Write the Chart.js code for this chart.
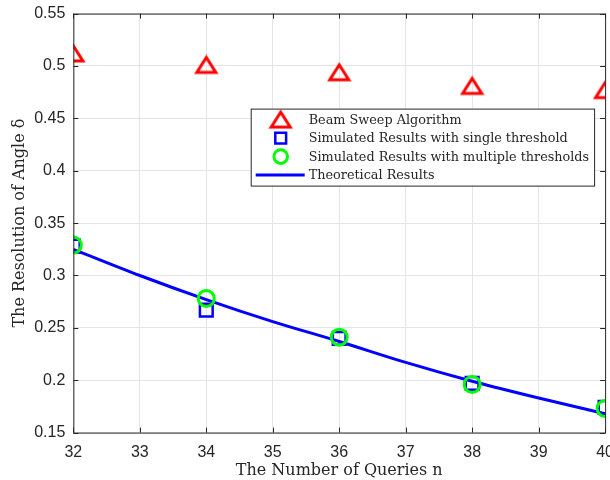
<!DOCTYPE html>
<html>
<head>
<meta charset="utf-8">
<script src="https://cdn.jsdelivr.net/npm/chart.js@4/dist/chart.umd.min.js"></script>
<style>
  html, body { margin: 0; padding: 0; background: #fff; overflow: hidden; }
  #wrap { width: 610px; height: 480px; overflow: hidden; }
  #c { display: block; margin-top: -4px; }
</style>
</head>
<body>
<div id="wrap"><canvas id="c" width="624" height="484"></canvas></div>
<script>
const queries = [32, 34, 36, 38, 40]
const beamSweep = [0.512, 0.501, 0.494, 0.481, 0.477]
const singleThreshold = [0.328, 0.267, 0.240, 0.197, 0.174]
const multipleThresholds = [0.329, 0.278, 0.241, 0.196, 0.173]
const theoryN = [32, 33, 34, 35, 36, 37, 38, 39, 40]
const theory = [0.325, 0.300, 0.277, 0.256, 0.237, 0.217, 0.199, 0.183, 0.168]
const xTicks = [32, 33, 34, 35, 36, 37, 38, 39, 40]
const yTicks = [0.15, 0.2, 0.25, 0.3, 0.35, 0.4, 0.45, 0.5, 0.55]

const pts = (xs, ys) => xs.map((x, i) => ({ x: x, y: ys[i] }))
const axisColor = '#262626'
const serif = '"DejaVu Serif", "Liberation Serif", serif'
const sans = '"Liberation Sans", Arial, sans-serif'

// matlab '^' marker: centred on its bounding box, not its circumcentre
function triangleMarker(w, h, lw, color) {
  const cv = document.createElement('canvas')
  cv.width = w + lw * 2
  cv.height = h + lw * 2
  const g = cv.getContext('2d')
  g.strokeStyle = color
  g.lineWidth = lw
  g.lineJoin = 'miter'
  g.beginPath()
  g.moveTo(cv.width / 2, lw)
  g.lineTo(cv.width - lw, cv.height - lw)
  g.lineTo(lw, cv.height - lw)
  g.closePath()
  g.stroke()
  return cv
}
const tri = triangleMarker(19, 15, 3, '#ff0000')

// box, inward ticks and legend inside the axes
const boxPlugin = {
  id: 'box',
  afterDraw(chart) {
    const ctx = chart.ctx
    const a = chart.chartArea
    const xs = chart.scales.x, ys = chart.scales.y
    ctx.save()
    ctx.strokeStyle = axisColor
    ctx.lineWidth = 1
    ctx.strokeRect(a.left + 0.5, a.top + 0.5, a.right - a.left, a.bottom - a.top)
    ctx.beginPath()
    xTicks.forEach(v => {
      const px = Math.round(xs.getPixelForValue(v)) + 0.5
      ctx.moveTo(px, a.bottom); ctx.lineTo(px, a.bottom - 5)
      ctx.moveTo(px, a.top); ctx.lineTo(px, a.top + 5)
    })
    yTicks.forEach(v => {
      const py = Math.round(ys.getPixelForValue(v)) + 0.5
      ctx.moveTo(a.left, py); ctx.lineTo(a.left + 5, py)
      ctx.moveTo(a.right, py); ctx.lineTo(a.right - 5, py)
    })
    ctx.stroke()

    // legend
    const ds = chart.data.datasets
    ctx.font = '12.8px ' + serif
    let tw = 0
    ds.forEach(d => { tw = Math.max(tw, ctx.measureText(d.label).width) })
    const w = 58 + tw + 5, h = 77
    const left = a.right - 11 - w, top = a.top + 95
    ctx.fillStyle = '#fff'
    ctx.fillRect(left, top, w, h)
    ctx.strokeStyle = axisColor
    ctx.strokeRect(left + 0.5, top + 0.5, w, h)
    ds.forEach((d, i) => {
      const cy = top + 11 + i * 18.5
      const cx = left + 30
      if (d.showLine) {
        ctx.strokeStyle = d.borderColor
        ctx.lineWidth = d.borderWidth
        ctx.beginPath(); ctx.moveTo(left + 5, cy); ctx.lineTo(left + 54, cy); ctx.stroke()
      } else if (d.pointStyle === tri) {
        ctx.drawImage(tri, cx - tri.width / 2, cy - tri.height / 2)
      } else {
        ctx.strokeStyle = d.pointBorderColor
        ctx.lineWidth = d.pointBorderWidth
        ctx.beginPath()
        if (d.pointStyle === 'rect') {
          const s = d.pointRadius * 0.85 * Math.SQRT1_2
          ctx.rect(cx - s, cy - s, 2 * s, 2 * s)
        } else {
          ctx.arc(cx, cy, d.pointRadius * 0.85, 0, Math.PI * 2)
        }
        ctx.stroke()
      }
      ctx.fillStyle = axisColor
      ctx.textBaseline = 'middle'
      ctx.textAlign = 'left'
      ctx.fillText(d.label, left + 58, cy + 1)
    })
    ctx.restore()
  }
}

new Chart(document.getElementById('c').getContext('2d'), {
  type: 'scatter',
  data: {
    datasets: [
      {
        label: 'Beam Sweep Algorithm',
        data: pts(queries, beamSweep),
        showLine: false,
        pointStyle: tri,
        pointRadius: 12,
        order: 1
      },
      {
        label: 'Simulated Results with single threshold',
        data: pts(queries, singleThreshold),
        showLine: false,
        pointStyle: 'rect',
        pointRadius: 9,
        pointBorderWidth: 2.5,
        pointBorderColor: '#0000ff',
        pointBackgroundColor: 'rgba(0,0,0,0)',
        order: 3
      },
      {
        label: 'Simulated Results with multiple thresholds',
        data: pts(queries, multipleThresholds),
        showLine: false,
        pointStyle: 'circle',
        pointRadius: 8,
        pointBorderWidth: 3,
        pointBorderColor: '#00ff00',
        pointBackgroundColor: 'rgba(0,0,0,0)',
        order: 2
      },
      {
        label: 'Theoretical Results',
        data: pts(theoryN, theory),
        showLine: true,
        borderColor: '#0000ff',
        borderWidth: 3,
        pointRadius: 0,
        cubicInterpolationMode: 'monotone',
        order: 4
      }
    ]
  },
  plugins: [boxPlugin],
  options: {
    responsive: false,
    animation: false,
    layout: { padding: { top: 0, right: 0, left: 10, bottom: -11 } },
    plugins: { legend: { display: false }, tooltip: { enabled: false } },
    scales: {
      x: {
        type: 'linear',
        min: 32, max: 40,
        afterBuildTicks: s => { s.ticks = xTicks.map(v => ({ value: v })) },
        grid: { color: '#e5e5e5', drawTicks: false },
        border: { display: false },
        ticks: { color: axisColor, font: { family: sans, size: 16 }, padding: 10, maxRotation: 0 },
        title: { display: true, text: 'The Number of Queries n', color: axisColor, font: { family: serif, size: 16 }, padding: { top: -10.5, bottom: 10.5 } }
      },
      y: {
        min: 0.15, max: 0.55,
        afterBuildTicks: s => { s.ticks = yTicks.map(v => ({ value: v })) },
        grid: { color: '#e5e5e5', drawTicks: false },
        border: { display: false },
        ticks: { color: axisColor, font: { family: sans, size: 16 }, padding: 8,
          callback: v => String(Math.round(v * 100) / 100) },
        title: { display: true, text: 'The Resolution of Angle δ', color: axisColor, font: { family: serif, size: 16 }, padding: { top: 0, bottom: -3 } }
      }
    }
  }
})
</script>
</body>
</html>
